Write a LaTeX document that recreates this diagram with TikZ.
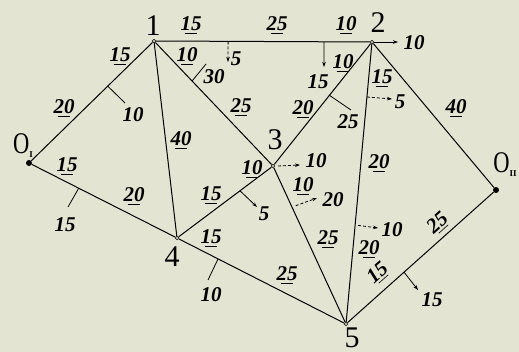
\documentclass[tikz,border=0pt]{standalone}
\usepackage{fontspec}
\setmainfont{Liberation Serif}
\usetikzlibrary{calc,arrows.meta}
\definecolor{paper}{RGB}{228,228,210}
\newcommand\fl[1]{\setbox0=\hbox{#1}\dimen0=\wd0 \vtop{\offinterlineskip\copy0\kern2.2pt\hbox to\dimen0{\hss\vrule width0.6\dimen0 height0.6pt\hss}}}
\begin{document}
\begin{tikzpicture}[x=1pt,y=-1pt,
 edge/.style={line width=1pt},
 tickl/.style={line width=0.8pt},
 arr/.style={tickl,-{Stealth[length=5pt,width=3.5pt]}},
 darr/.style={arr,densely dashed},
 num/.style={font=\fontsize{21}{21}\selectfont\bfseries\itshape, inner sep=0pt},
 vlab/.style={font=\fontsize{30}{30}\selectfont, inner sep=0pt},
 vert/.style={circle,draw,fill=paper,inner sep=0pt,minimum size=3.5pt,line width=0.6pt},
 src/.style={circle,fill=black,inner sep=0pt,minimum size=6pt}]
\useasboundingbox[fill=paper] (0,0) rectangle (519,352);
% vertices
\node[src] (O1) at (29,163) {};
\node[src] (O2) at (496,190) {};
\node[vert] (n1) at (154,41) {};
\node[vert] (n2) at (372,42) {};
\node[vert] (n3) at (273,166) {};
\node[vert] (n4) at (177,238) {};
\node[vert] (n5) at (346,324) {};
% vertex labels
\node[vlab] (l1) at (153,26) {1};
\node[vlab] (l2) at (378,23) {2};
\node[vlab] (l3) at (275,140) {3};
\node[vlab] (l4) at (172,257) {4};
\node[vlab] (l5) at (352,338) {5};
\node[vlab] (lO1) at (23,146) {\scalebox{0.75}[1]{O}\raisebox{-4pt}{\fontsize{9}{9}\selectfont\bfseries I}};
\node[vlab] (lO2) at (505,165) {\scalebox{0.75}[1]{O}\raisebox{-4pt}{\fontsize{9}{9}\selectfont\bfseries II}};
% edges
\draw[edge] (O1) -- (n1);
\draw[edge] (O1) -- (n4);
\draw[edge] (n1) -- (n2);
\draw[edge] (n1) -- (n3);
\draw[edge] (n1) -- (n4);
\draw[edge] (n2) -- (n3);
\draw[edge] (n2) -- (n5);
\draw[edge] (n2) -- (O2);
\draw[edge] (n3) -- (n4);
\draw[edge] (n3) -- (n5);
\draw[edge] (n4) -- (n5);
\draw[edge] (O2) -- (n5);
% tick ends
\coordinate (t12a) at (228,62);
\coordinate (t12b) at (324,67);
\coordinate (t2r) at (398,42);
\coordinate (tO1a) at (125,103);
\coordinate (t13) at (206,64);
\coordinate (t23) at (351,110);
\coordinate (t25a) at (392,99);
\coordinate (t3r) at (300,165);
\coordinate (t34) at (257,207);
\coordinate (t35) at (317,198);
\coordinate (t25b) at (378,228);
\coordinate (tO14) at (68,207);
\coordinate (t45) at (208,280);
\coordinate (tO25) at (418,290);
% ticks and arrows
\draw[darr] ($(n1)!0.34!(n2)$) -- (t12a);
\draw[arr] ($(n1)!0.78!(n2)$) -- (t12b);
\draw[arr] (n2) -- (t2r);
\draw[tickl] ($(O1)!0.63!(n1)$) -- (tO1a);
\draw[tickl] ($(n1)!0.32!(n3)$) -- (t13);
\draw[tickl] ($(n2)!0.43!(n3)$) -- (t23);
\draw[darr] ($(n2)!0.195!(n5)$) -- (t25a);
\draw[darr] ($(n3)+(5,0)$) -- (t3r);
\draw[arr] ($(n3)!0.344!(n4)$) -- (t34);
\draw[darr,shorten <=4pt] ($(n3)!0.26!(n5)$) -- (t35);
\draw[darr,shorten <=3pt] ($(n2)!0.649!(n5)$) -- (t25b);
\draw[tickl] ($(O1)!0.336!(n4)$) -- (tO14);
\draw[tickl] ($(n4)!0.243!(n5)$) -- (t45);
\draw[arr] ($(O2)!0.613!(n5)$) -- (tO25);
% flows (underlined)
\node[num] (f1) at (191,25) {\fl{15}};
\node[num] (f2) at (277,25) {\fl{25}};
\node[num] (f3) at (346,25) {\fl{10}};
\node[num] (f4) at (120,56) {\fl{15}};
\node[num] (f5) at (64,108) {\fl{20}};
\node[num] (f6) at (187,56) {\fl{10}};
\node[num] (f7) at (241,107) {\fl{25}};
\node[num] (f8) at (181,140) {\fl{40}};
\node[num] (f9) at (67,166) {\fl{15}};
\node[num] (f10) at (134,196) {\fl{20}};
\node[num] (f11) at (211,195) {\fl{15}};
\node[num] (f12) at (211,238) {\fl{15}};
\node[num] (f13) at (252,169) {\fl{10}};
\node[num] (f14) at (303,186) {\fl{10}};
\node[num] (f15) at (328,239) {\fl{25}};
\node[num] (f16) at (343,63) {\fl{10}};
\node[num] (f17) at (303,109) {\fl{20}};
\node[num] (f18) at (382,78) {\fl{15}};
\node[num] (f19) at (379,163) {\fl{20}};
\node[num] (f20) at (369,249) {\fl{20}};
\node[num] (f21) at (456,108) {\fl{40}};
\node[num] (f22) at (287,275) {\fl{25}};
\node[num,rotate=42] (f23) at (438,223) {\fl{25}};
\node[num,rotate=42] (f24) at (378,273) {\fl{15}};
% demands (plain)
\node[num] (d1) at (236,59) {5};
\node[num] (d2) at (214,77) {30};
\node[num] (d3) at (318,82) {15};
\node[num] (d4) at (133,115) {10};
\node[num] (d5) at (414,43) {10};
\node[num] (d6) at (348,122) {25};
\node[num] (d7) at (400,102) {5};
\node[num] (d8) at (316,161) {10};
\node[num] (d9) at (333,200) {20};
\node[num] (d10) at (264,214) {5};
\node[num] (d11) at (392,230) {10};
\node[num] (d12) at (65,225) {15};
\node[num] (d13) at (211,295) {10};
\node[num] (d14) at (432,300) {15};
\end{tikzpicture}
\end{document}
